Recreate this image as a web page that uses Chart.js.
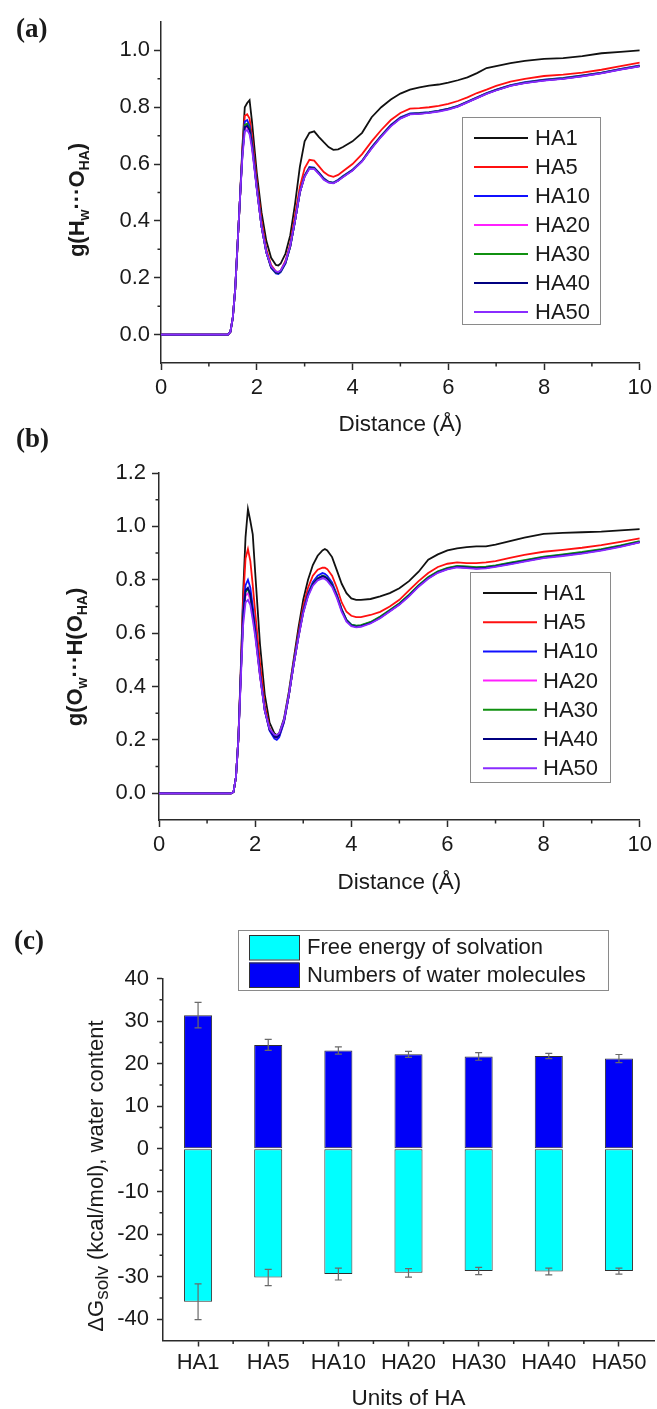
<!DOCTYPE html>
<html>
<head>
<meta charset="utf-8">
<script src="https://cdn.jsdelivr.net/npm/chart.js@4.4.0/dist/chart.umd.min.js"></script>
<style>
  html, body { margin: 0; padding: 0; background: #fff; }
  #wrap { position: relative; width: 657px; height: 1409px; overflow: hidden; }
  #wrap canvas { position: absolute; left: 0; }
</style>
</head>
<body>
<div id="wrap">
  <canvas id="chartA" width="657" height="445" style="top:0px"></canvas>
  <canvas id="chartB" width="657" height="485" style="top:420px"></canvas>
  <canvas id="chartC" width="657" height="504" style="top:905px"></canvas>
</div>
<script>
// ============================================================
// DATA
// ============================================================
const seriesNames  = ['HA1', 'HA5', 'HA10', 'HA20', 'HA30', 'HA40', 'HA50'];
const seriesColors = ['#111111', '#ff1010', '#1010ff', '#ff20ff', '#109010', '#000080', '#8a2cff'];
const distTicks    = [0, 2, 4, 6, 8, 10];
const distMinor    = [1, 3, 5, 7, 9];

// (a) g(Hw...O_HA)
const xsA = [0,1.4,1.45,1.5,1.55,1.6,1.65,1.7,1.75,1.8,1.85,1.9,1.95,2.0,2.1,2.2,2.3,2.4,2.45,2.5,2.6,2.7,2.8,2.9,3.0,3.1,3.2,3.3,3.4,3.5,3.6,3.7,3.8,4.0,4.2,4.4,4.6,4.8,5.0,5.2,5.4,5.6,5.8,6.0,6.2,6.4,6.6,6.8,7.0,7.3,7.6,8.0,8.4,8.8,9.2,9.6,10];
const gA_HA1  = [0,0,0.01,0.06,0.16,0.32,0.48,0.66,0.80,0.815,0.825,0.75,0.66,0.57,0.43,0.33,0.27,0.245,0.243,0.25,0.285,0.35,0.46,0.59,0.68,0.71,0.715,0.695,0.677,0.66,0.65,0.652,0.66,0.68,0.71,0.765,0.80,0.827,0.848,0.862,0.87,0.876,0.88,0.887,0.895,0.905,0.92,0.938,0.945,0.955,0.963,0.97,0.973,0.98,0.99,0.995,1.0];
const gA_HA5  = [0,0,0.01,0.06,0.16,0.32,0.48,0.65,0.77,0.775,0.76,0.70,0.62,0.54,0.40,0.30,0.245,0.222,0.22,0.225,0.26,0.32,0.42,0.52,0.585,0.615,0.612,0.592,0.572,0.56,0.555,0.562,0.575,0.60,0.635,0.68,0.72,0.755,0.78,0.795,0.797,0.80,0.805,0.812,0.822,0.835,0.85,0.862,0.875,0.89,0.90,0.91,0.915,0.922,0.932,0.945,0.957];
const gA_HA10 = [0,0,0.01,0.06,0.16,0.32,0.48,0.64,0.75,0.755,0.735,0.68,0.60,0.52,0.38,0.29,0.235,0.215,0.213,0.22,0.25,0.31,0.40,0.50,0.56,0.59,0.588,0.57,0.55,0.538,0.535,0.545,0.558,0.58,0.612,0.66,0.70,0.738,0.765,0.778,0.78,0.783,0.788,0.795,0.805,0.82,0.835,0.85,0.862,0.878,0.888,0.897,0.903,0.912,0.922,0.935,0.947];
const gA_HA20 = [0,0,0.01,0.06,0.16,0.32,0.48,0.63,0.725,0.73,0.715,0.665,0.59,0.515,0.38,0.29,0.238,0.22,0.218,0.224,0.254,0.312,0.40,0.50,0.557,0.585,0.584,0.566,0.547,0.536,0.533,0.542,0.555,0.578,0.61,0.657,0.698,0.735,0.762,0.776,0.778,0.781,0.786,0.793,0.803,0.818,0.833,0.848,0.86,0.876,0.886,0.895,0.901,0.91,0.92,0.933,0.945];
const gA_HA30 = [0,0,0.01,0.06,0.16,0.32,0.48,0.635,0.738,0.742,0.725,0.672,0.595,0.518,0.38,0.29,0.236,0.218,0.216,0.222,0.252,0.31,0.40,0.50,0.558,0.587,0.586,0.568,0.548,0.537,0.534,0.543,0.556,0.579,0.611,0.658,0.699,0.736,0.763,0.777,0.779,0.782,0.787,0.794,0.804,0.819,0.834,0.849,0.861,0.877,0.887,0.896,0.902,0.911,0.921,0.934,0.946];
const gA_HA40 = [0,0,0.01,0.06,0.16,0.32,0.48,0.632,0.73,0.735,0.72,0.668,0.592,0.516,0.38,0.29,0.237,0.219,0.217,0.223,0.253,0.311,0.40,0.50,0.557,0.586,0.585,0.567,0.547,0.536,0.533,0.542,0.555,0.578,0.61,0.657,0.698,0.735,0.762,0.776,0.778,0.781,0.786,0.793,0.803,0.818,0.833,0.848,0.86,0.876,0.886,0.895,0.901,0.91,0.92,0.933,0.945];
const gA_HA50 = [0,0,0.01,0.06,0.16,0.32,0.48,0.625,0.715,0.72,0.705,0.655,0.585,0.512,0.38,0.29,0.24,0.222,0.22,0.226,0.256,0.313,0.40,0.50,0.555,0.584,0.583,0.565,0.545,0.535,0.532,0.541,0.554,0.577,0.609,0.655,0.696,0.733,0.76,0.775,0.777,0.78,0.785,0.792,0.802,0.817,0.832,0.847,0.859,0.875,0.885,0.894,0.90,0.909,0.919,0.932,0.944];
const yTicksA = [0, 0.2, 0.4, 0.6, 0.8, 1.0];
const yMinorA = [0.1, 0.3, 0.5, 0.7, 0.9];

// (b) g(Ow...H(O_HA))
const xsB = [0,1.5,1.55,1.6,1.65,1.7,1.75,1.8,1.85,1.9,1.95,2.0,2.1,2.2,2.3,2.4,2.45,2.5,2.6,2.7,2.8,2.9,3.0,3.1,3.2,3.3,3.4,3.45,3.5,3.6,3.7,3.8,3.9,4.0,4.1,4.2,4.4,4.6,4.8,5.0,5.2,5.4,5.6,5.8,6.0,6.2,6.4,6.6,6.8,7.0,7.3,7.6,8.0,8.4,8.8,9.2,9.6,10];
const gB_HA1  = [0,0,0.005,0.06,0.2,0.46,0.75,0.96,1.065,1.02,0.97,0.83,0.56,0.37,0.265,0.225,0.218,0.225,0.28,0.38,0.50,0.62,0.725,0.80,0.855,0.89,0.91,0.915,0.91,0.885,0.835,0.785,0.75,0.73,0.725,0.725,0.728,0.738,0.75,0.768,0.795,0.83,0.875,0.895,0.91,0.918,0.922,0.925,0.925,0.932,0.945,0.958,0.972,0.976,0.978,0.98,0.985,0.99];
const gB_HA5  = [0,0,0.005,0.06,0.2,0.45,0.72,0.88,0.915,0.87,0.78,0.68,0.49,0.33,0.245,0.21,0.208,0.215,0.27,0.37,0.49,0.60,0.70,0.77,0.815,0.838,0.845,0.845,0.84,0.815,0.77,0.715,0.68,0.665,0.66,0.66,0.668,0.68,0.70,0.725,0.76,0.795,0.825,0.848,0.86,0.865,0.862,0.862,0.865,0.87,0.882,0.893,0.905,0.912,0.92,0.93,0.942,0.955];
const gB_HA10 = [0,0,0.005,0.06,0.2,0.44,0.68,0.78,0.80,0.77,0.70,0.62,0.45,0.31,0.235,0.205,0.2,0.21,0.265,0.365,0.485,0.59,0.685,0.75,0.792,0.815,0.825,0.822,0.815,0.79,0.745,0.69,0.65,0.632,0.627,0.628,0.64,0.66,0.685,0.71,0.742,0.778,0.808,0.83,0.843,0.85,0.848,0.845,0.847,0.852,0.862,0.872,0.885,0.893,0.902,0.913,0.927,0.943];
const gB_HA20 = [0,0,0.005,0.06,0.2,0.43,0.65,0.74,0.75,0.725,0.665,0.60,0.44,0.31,0.24,0.215,0.212,0.22,0.27,0.365,0.48,0.585,0.678,0.742,0.782,0.803,0.812,0.81,0.803,0.78,0.738,0.685,0.647,0.629,0.624,0.626,0.638,0.658,0.683,0.708,0.74,0.776,0.806,0.828,0.841,0.848,0.846,0.843,0.845,0.85,0.86,0.87,0.883,0.891,0.90,0.911,0.925,0.941];
const gB_HA30 = [0,0,0.005,0.06,0.2,0.435,0.66,0.755,0.765,0.74,0.675,0.605,0.445,0.312,0.24,0.218,0.215,0.222,0.272,0.367,0.482,0.587,0.68,0.744,0.785,0.806,0.815,0.813,0.806,0.782,0.74,0.688,0.65,0.632,0.628,0.63,0.642,0.662,0.687,0.712,0.744,0.78,0.81,0.832,0.845,0.852,0.85,0.847,0.849,0.854,0.864,0.874,0.887,0.895,0.904,0.915,0.929,0.945];
const gB_HA40 = [0,0,0.005,0.06,0.2,0.435,0.66,0.76,0.77,0.745,0.68,0.608,0.446,0.312,0.238,0.212,0.21,0.218,0.27,0.366,0.481,0.586,0.679,0.743,0.783,0.804,0.813,0.811,0.804,0.78,0.738,0.686,0.647,0.629,0.624,0.626,0.638,0.658,0.683,0.708,0.74,0.776,0.806,0.828,0.841,0.848,0.846,0.843,0.845,0.85,0.86,0.87,0.883,0.891,0.90,0.911,0.925,0.941];
const gB_HA50 = [0,0,0.005,0.06,0.2,0.42,0.63,0.715,0.725,0.705,0.65,0.59,0.44,0.31,0.242,0.22,0.218,0.225,0.274,0.368,0.48,0.583,0.675,0.738,0.778,0.798,0.805,0.803,0.796,0.773,0.732,0.68,0.643,0.626,0.622,0.624,0.636,0.656,0.681,0.706,0.738,0.774,0.804,0.826,0.839,0.846,0.844,0.841,0.843,0.848,0.858,0.868,0.881,0.889,0.898,0.909,0.923,0.94];
const yTicksB = [0, 0.2, 0.4, 0.6, 0.8, 1.0, 1.2];
const yMinorB = [0.1, 0.3, 0.5, 0.7, 0.9, 1.1];

// (c) solvation free energy & water content
const unitLabels     = ['HA1', 'HA5', 'HA10', 'HA20', 'HA30', 'HA40', 'HA50'];
const freeEnergy     = [-35.9, -30.2, -29.4, -29.1, -28.7, -28.8, -28.7];
const freeEnergyErr  = [4.2, 1.9, 1.4, 1.0, 0.85, 0.8, 0.7];
const waterCount     = [31.4, 24.4, 23.1, 22.2, 21.7, 21.8, 21.2];
const waterCountErr  = [3.0, 1.3, 0.85, 0.7, 0.9, 0.6, 0.95];
const yTicksC = [-40, -30, -20, -10, 0, 10, 20, 30, 40];
const yMinorC = [-35, -25, -15, -5, 5, 15, 25, 35];

// ============================================================
// STYLE HELPERS
// ============================================================
const FONT  = "'Liberation Sans', Arial, sans-serif";
const SERIF = "'Liberation Serif', 'Times New Roman', serif";
const AXIS  = '#2a2a2a';
const TEXT  = '#1a1a1a';

function drawRich(ctx, parts, cx, cy, rotate) {
  ctx.save();
  ctx.translate(cx, cy);
  if (rotate) ctx.rotate(-Math.PI / 2);
  ctx.fillStyle = TEXT;
  ctx.textBaseline = 'alphabetic';
  ctx.textAlign = 'left';
  let total = 0;
  parts.forEach(p => { ctx.font = p.font; p.w = ctx.measureText(p.t).width; total += p.w; });
  let x = -total / 2;
  parts.forEach(p => { ctx.font = p.font; ctx.fillText(p.t, x, 8 + (p.dy || 0)); x += p.w; });
  ctx.restore();
}

function drawText(ctx, t, x, y, font, align) {
  ctx.save();
  ctx.font = font; ctx.fillStyle = TEXT;
  ctx.textAlign = align || 'center'; ctx.textBaseline = 'middle';
  ctx.fillText(t, x, y);
  ctx.restore();
}

function drawMinor(chart, xs, ys, len) {
  const { ctx, chartArea } = chart;
  const sx = chart.scales.x, sy = chart.scales.y;
  ctx.save();
  ctx.strokeStyle = AXIS; ctx.lineWidth = 1.5;
  ctx.beginPath();
  xs.forEach(v => { const px = sx.getPixelForValue(v); ctx.moveTo(px, chartArea.bottom); ctx.lineTo(px, chartArea.bottom + len); });
  ys.forEach(v => { const py = sy.getPixelForValue(v); ctx.moveTo(chartArea.left, py); ctx.lineTo(chartArea.left - len, py); });
  ctx.stroke();
  ctx.restore();
}

function drawLineLegend(chart, L) {
  const ctx = chart.ctx;
  ctx.save();
  ctx.fillStyle = '#fff';
  ctx.fillRect(L.x0, L.y0, L.x1 - L.x0, L.y1 - L.y0);
  ctx.strokeStyle = '#8a8a8a'; ctx.lineWidth = 1;
  ctx.strokeRect(L.x0 + 0.5, L.y0 + 0.5, L.x1 - L.x0, L.y1 - L.y0);
  chart.data.datasets.forEach((ds, i) => {
    const y = L.row0 + i * L.rowH;
    ctx.strokeStyle = ds.borderColor; ctx.lineWidth = 2;
    ctx.beginPath(); ctx.moveTo(L.lx0, y); ctx.lineTo(L.lx1, y); ctx.stroke();
    drawText(ctx, ds.label, L.tx, y + 1, '22px ' + FONT, 'left');
  });
  ctx.restore();
}

// ============================================================
// LINE PANELS (a) and (b)
// ============================================================
function makeLinePanel(id, xs, ys, cfg) {
  const datasets = seriesNames.map((name, i) => ({
    label: name,
    data: xs.map((x, k) => ({ x: x, y: ys[i][k] })),
    borderColor: seriesColors[i],
    borderWidth: 1.8,
    pointRadius: 0,
    tension: 0,
    order: seriesNames.length - i
  }));

  const deco = {
    id: 'deco',
    afterDraw(chart) {
      const ctx = chart.ctx;
      drawMinor(chart, distMinor, cfg.yMinor, 3.5);
      drawLineLegend(chart, cfg.legend);
      drawText(ctx, cfg.panel, cfg.panelX, cfg.panelY, 'bold 27px ' + SERIF, 'left');
      drawText(ctx, 'Distance (Å)', (chart.chartArea.left + chart.chartArea.right) / 2, cfg.xTitleY, '22.5px ' + FONT);
      drawRich(ctx, cfg.yTitle, cfg.yTitleX, cfg.yTitleY, true);
    }
  };

  return new Chart(document.getElementById(id), {
    type: 'line',
    data: { datasets },
    plugins: [deco],
    options: {
      responsive: false,
      animation: false,
      layout: { padding: { top: cfg.top, right: cfg.right, left: 0, bottom: 0 } },
      plugins: { legend: { display: false }, tooltip: { enabled: false } },
      scales: {
        x: {
          type: 'linear', min: 0, max: 10,
          afterBuildTicks: s => { s.ticks = distTicks.map(v => ({ value: v })); },
          afterFit: s => { s.height = cfg.xHeight; },
          grid: { drawOnChartArea: false, tickLength: 7, tickWidth: 1.5, tickColor: AXIS },
          border: { color: AXIS, width: 1.5 },
          ticks: { font: { family: FONT, size: 22 }, color: TEXT, padding: 5, maxRotation: 0 }
        },
        y: {
          type: 'linear', min: -0.1, max: cfg.yMax,
          afterBuildTicks: s => { s.ticks = cfg.yTicks.map(v => ({ value: v })); },
          afterFit: s => { s.width = cfg.left; },
          grid: { drawOnChartArea: false, tickLength: 7, tickWidth: 1.5, tickColor: AXIS },
          border: { color: AXIS, width: 1.5 },
          ticks: { font: { family: FONT, size: 22 }, color: TEXT, padding: cfg.yPad, callback: v => v.toFixed(1) }
        }
      }
    }
  });
}

const BOLD = 'bold 22px ' + FONT;
const SUB  = 'bold 14px ' + FONT;

makeLinePanel('chartA', xsA, [gA_HA1, gA_HA5, gA_HA10, gA_HA20, gA_HA30, gA_HA40, gA_HA50], {
  top: 22, right: 17, left: 161, xHeight: 82, yMax: 1.1, yPad: 4,
  yTicks: yTicksA, yMinor: yMinorA,
  legend: { x0: 462, x1: 600, y0: 117, y1: 324, row0: 138, rowH: 29, lx0: 474, lx1: 528, tx: 535 },
  panel: '(a)', panelX: 16, panelY: 30,
  xTitleY: 425,
  yTitleX: 76, yTitleY: 200,
  yTitle: [
    { t: 'g(H', font: BOLD }, { t: 'w', font: SUB, dy: 5 }, { t: '···O', font: BOLD },
    { t: 'HA', font: SUB, dy: 5 }, { t: ')', font: BOLD }
  ]
});

makeLinePanel('chartB', xsB, [gB_HA1, gB_HA5, gB_HA10, gB_HA20, gB_HA30, gB_HA40, gB_HA50], {
  top: 53, right: 15, left: 159, xHeight: 85, yMax: 1.2, yPad: 6,
  yTicks: yTicksB, yMinor: yMinorB,
  legend: { x0: 470, x1: 610, y0: 152, y1: 362, row0: 173, rowH: 29.2, lx0: 483, lx1: 537, tx: 543 },
  panel: '(b)', panelX: 16, panelY: 20,
  xTitleY: 463,
  yTitleX: 74, yTitleY: 237,
  yTitle: [
    { t: 'g(O', font: BOLD }, { t: 'w', font: SUB, dy: 5 }, { t: '···H(O', font: BOLD },
    { t: 'HA', font: SUB, dy: 5 }, { t: ')', font: BOLD }
  ]
});

// ============================================================
// BAR PANEL (c)
// ============================================================
const errorBars = {
  id: 'errorBars',
  afterDatasetsDraw(chart) {
    const { ctx } = chart;
    const sy = chart.scales.y;
    ctx.save();
    ctx.strokeStyle = '#6a6a6a'; ctx.lineWidth = 1.2;
    chart.data.datasets.forEach((ds, di) => {
      const meta = chart.getDatasetMeta(di);
      meta.data.forEach((bar, i) => {
        const v = ds.data[i], e = ds.errors[i];
        const yHi = sy.getPixelForValue(v + e), yLo = sy.getPixelForValue(v - e);
        ctx.beginPath();
        ctx.moveTo(bar.x, yHi); ctx.lineTo(bar.x, yLo);
        ctx.moveTo(bar.x - 3.5, yHi); ctx.lineTo(bar.x + 3.5, yHi);
        ctx.moveTo(bar.x - 3.5, yLo); ctx.lineTo(bar.x + 3.5, yLo);
        ctx.stroke();
      });
    });
    ctx.restore();
  }
};

const decoC = {
  id: 'decoC',
  afterDraw(chart) {
    const ctx = chart.ctx;
    const ca = chart.chartArea;
    const bounds = unitLabels.slice(1).map((_, i) => i + 0.5);
    drawMinor(chart, bounds, yMinorC, 3.5);
    // legend
    ctx.save();
    ctx.fillStyle = '#fff';
    ctx.fillRect(238, 25, 370, 60);
    ctx.strokeStyle = '#8a8a8a'; ctx.lineWidth = 1;
    ctx.strokeRect(238.5, 25.5, 370, 60);
    chart.data.datasets.forEach((ds, i) => {
      const y0 = 30 + i * 27.5;
      ctx.fillStyle = ds.backgroundColor;
      ctx.fillRect(249, y0, 50, 24.5);
      ctx.strokeStyle = '#333'; ctx.lineWidth = 1;
      ctx.strokeRect(249.5, y0 + 0.5, 50, 24.5);
      drawText(ctx, ds.label, 307, y0 + 13, '22px ' + FONT, 'left');
    });
    ctx.restore();
    drawText(ctx, '(c)', 14, 37, 'bold 27px ' + SERIF, 'left');
    drawText(ctx, 'Units of HA', (ca.left + ca.right) / 2, 494, '22.5px ' + FONT);
    const REG = '22px ' + FONT;
    drawRich(ctx, [
      { t: 'ΔG', font: REG }, { t: 'solv', font: '19px ' + FONT, dy: 5 },
      { t: ' (kcal/mol), water content', font: REG }
    ], 95, 271, true);
  }
};

new Chart(document.getElementById('chartC'), {
  type: 'bar',
  data: {
    labels: unitLabels,
    datasets: [
      { label: 'Free energy of solvation', data: freeEnergy, errors: freeEnergyErr, backgroundColor: '#00ffff' },
      { label: 'Numbers of water molecules', data: waterCount, errors: waterCountErr, backgroundColor: '#0000f8' }
    ]
  },
  plugins: [errorBars, decoC],
  options: {
    responsive: false,
    animation: false,
    layout: { padding: { top: 73.5, right: 3, left: 0, bottom: 0 } },
    datasets: { bar: { borderColor: '#303030', borderWidth: 1, borderSkipped: false, barPercentage: 0.4, categoryPercentage: 1.0 } },
    plugins: { legend: { display: false }, tooltip: { enabled: false } },
    scales: {
      x: {
        stacked: true,
        afterFit: s => { s.height = 68.5; },
        grid: { offset: false, drawOnChartArea: false, tickLength: 6, tickWidth: 1.5, tickColor: AXIS },
        border: { color: AXIS, width: 1.5 },
        ticks: { font: { family: FONT, size: 22 }, color: TEXT, padding: 3, maxRotation: 0 }
      },
      y: {
        stacked: true, min: -45, max: 40,
        afterBuildTicks: s => { s.ticks = yTicksC.map(v => ({ value: v })); },
        afterFit: s => { s.width = 163; },
        grid: { drawOnChartArea: false, tickLength: 6, tickWidth: 1.5, tickColor: AXIS },
        border: { color: AXIS, width: 1.5 },
        ticks: { font: { family: FONT, size: 22 }, color: TEXT, padding: 8 }
      }
    }
  }
});
</script>
</body>
</html>
